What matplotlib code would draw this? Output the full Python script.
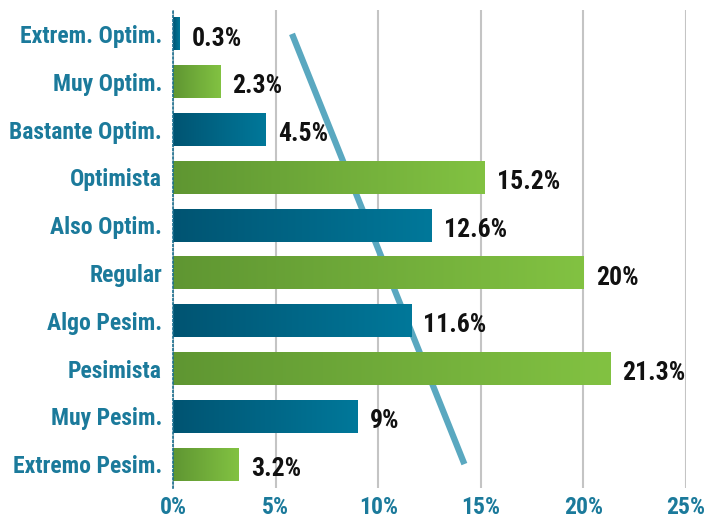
import matplotlib
matplotlib.use("Agg")
import matplotlib.pyplot as plt
import numpy as np
from matplotlib.colors import LinearSegmentedColormap

categories = ["Extrem. Optim.", "Muy Optim.", "Bastante Optim.", "Optimista", "Also Optim.",
              "Regular", "Algo Pesim.", "Pesimista", "Muy Pesim.", "Extremo Pesim."]
values = [0.3, 2.3, 4.5, 15.2, 12.6, 20, 11.6, 21.3, 9, 3.2]
value_labels = ["0.3%", "2.3%", "4.5%", "15.2%", "12.6%", "20%", "11.6%", "21.3%", "9%", "3.2%"]
trend_x = [5.8, 14.2]
trend_y = [0, 9]
xticks = [0, 5, 10, 15, 20, 25]
xtick_labels = ["0%", "5%", "10%", "15%", "20%", "25%"]

plt.rcParams["font.family"] = ["Roboto Condensed", "DejaVu Sans"]

blue_cm = LinearSegmentedColormap.from_list("b", ["#005472", "#00789A"])
green_cm = LinearSegmentedColormap.from_list("g", ["#5F9632", "#82C242"])
label_color = "#1B7A9B"

fig = plt.figure(figsize=(7.13, 5.19), dpi=100)
ax = fig.add_axes([173/713, 1 - 488/519, (686-173)/713, (488-10)/519])

grad = np.linspace(0, 1, 256).reshape(1, -1)
h = 0.69
for i, v in enumerate(values):
    cm = blue_cm if i % 2 == 0 else green_cm
    ax.imshow(grad, cmap=cm, aspect="auto", extent=(0, v, i + h/2, i - h/2),
              interpolation="bicubic", zorder=2)
    ax.text(v + 0.6, i + 0.1, value_labels[i], ha="left", va="center",
            fontsize=18.5, fontweight="bold", color="#111111", zorder=4)

ax.set_xlim(0, 25)
ax.set_ylim(9.5, -0.5)

ax.plot(trend_x, trend_y, color="#5AA8C0", lw=4.5, solid_capstyle="butt", zorder=1.5)

ax.set_xticks(xticks)
ax.set_xticklabels(xtick_labels)
ax.set_yticks(range(len(categories)))
ax.set_yticklabels(categories)
ax.tick_params(length=0)
ax.tick_params(axis="x", pad=6, labelsize=17, labelcolor=label_color)
ax.tick_params(axis="y", pad=8, labelsize=17, labelcolor=label_color)
for lab in ax.get_xticklabels() + ax.get_yticklabels():
    lab.set_fontweight("bold")

ax.grid(axis="x", color="#C4C4C4", lw=1.5, zorder=1)
ax.set_axisbelow(True)
for s in ["top", "right", "bottom"]:
    ax.spines[s].set_visible(False)
ax.spines["left"].set_color("#1B6F90")
ax.spines["left"].set_linestyle((0, (1, 1.5)))
ax.spines["left"].set_linewidth(1.2)
ax.spines["left"].set_zorder(5)

fig.savefig("out.png", dpi=100)
